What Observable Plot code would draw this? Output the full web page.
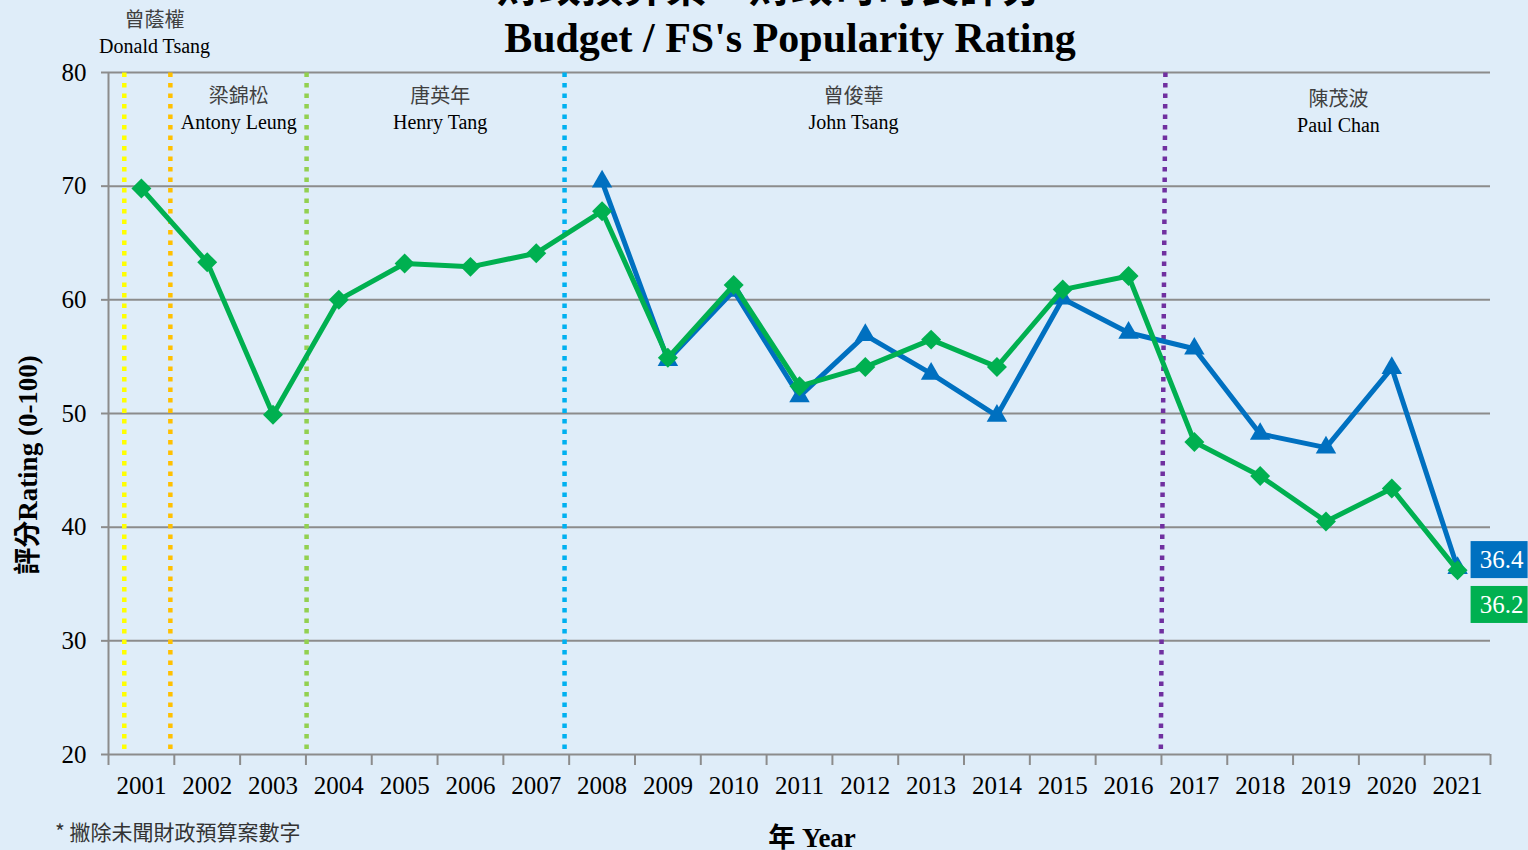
<!DOCTYPE html>
<html><head><meta charset="utf-8">
<script src="https://cdn.jsdelivr.net/npm/d3@7"></script>
<script src="https://cdn.jsdelivr.net/npm/@observablehq/plot@0.6"></script>
<style>
body{margin:0;background:#dfedf9;}
#wrap{position:relative;width:1528px;height:850px;overflow:hidden;font-family:"Liberation Serif","Noto Sans CJK TC",serif;background:#dfedf9;}
.abs{position:absolute;white-space:nowrap;line-height:1;}
#wrap svg{position:absolute;left:0;top:0;}
</style></head><body><div id="wrap">
<div class="abs" style="left:0;width:1540px;text-align:center;top:-37px;font-size:42px;font-weight:bold;font-family:'Noto Sans CJK TC',sans-serif;">財政預算案、財政司司長評分</div>
<div class="abs" style="left:0;width:1580px;text-align:center;top:17px;font-size:42px;font-weight:bold;">Budget / FS's Popularity Rating</div>
<div class="abs" style="left:28px;top:465px;transform:translate(-50%,-50%) rotate(-90deg);font-size:27px;font-weight:bold;">評分Rating (0-100)</div>
<div class="abs" style="left:812px;top:838px;transform:translate(-50%,-50%);font-size:27px;font-weight:bold;">年 Year</div>
<div class="abs" style="left:55px;top:821px;font-size:21px;color:#333;font-family:'Noto Sans CJK TC','Liberation Serif',sans-serif;">* 撇除未聞財政預算案數字</div>
</div>
<script>
// ---- data ----
const years = [2001,2002,2003,2004,2005,2006,2007,2008,2009,2010,2011,2012,2013,2014,2015,2016,2017,2018,2019,2020,2021];
const budgetRating = [69.8,63.3,49.9,60.0,63.2,62.9,64.1,67.8,54.9,61.3,52.4,54.1,56.5,54.1,60.9,62.1,47.5,44.5,40.5,43.4,36.2];
const fsYears = [2008,2009,2010,2011,2012,2013,2014,2015,2016,2017,2018,2019,2020,2021];
const fsRating = [70.4,54.7,60.8,51.5,56.9,53.5,49.8,60.1,57.1,55.7,48.2,47.0,54.0,36.4];
const yTicks = [20,30,40,50,60,70,80];
// term boundaries (year position at top / bottom of plot)
const termTop = [2000.74,2001.44,2003.51,2007.43,2016.56];
const termBottom = [2000.74,2001.44,2003.51,2007.43,2016.49];
const termColors = ["#ffff00","#ffc000","#92d050","#00b0f0","#7030a0"];
// office holders
const holderZh = ["曾蔭權","梁錦松","唐英年","曾俊華","陳茂波"];
const holderEn = ["Donald Tsang","Antony Leung","Henry Tang","John Tsang","Paul Chan"];
const holderX = [2001.2,2002.48,2005.54,2011.82,2019.19];
const holderYzh = [84.6,77.9,77.9,77.9,77.6];
const holderYen = [82.3,75.6,75.6,75.6,75.3];

const green = "#00b050", blue = "#0070c0", grid = "#8c8c8c";
const budget = years.map((y,i)=>({year:y, v:budgetRating[i]}));
const fs = fsYears.map((y,i)=>({year:y, v:fsRating[i]}));
const terms = termTop.map((t,i)=>({top:t, bottom:termBottom[i], color:termColors[i]}));
const holders = holderZh.map((z,i)=>({zh:z, en:holderEn[i], x:holderX[i], yz:holderYzh[i], ye:holderYen[i]}));
const bounds = d3.range(2000.5, 2022, 1);
const lastFs = [fs[fs.length-1]];
const lastBudget = [budget[budget.length-1]];

function valueLabel(data, fill, dy) {
  return [
    Plot.rect(data, {x1:"year", x2:"year", y1:"v", y2:"v", fill, dy, insetLeft:13.5, insetRight:-70.5, insetTop:-18.5, insetBottom:-18.5}),
    Plot.text(data, {x:"year", y:"v", text:d=>d.v.toFixed(1), fill:"#fff", fontSize:25, dx:44, dy})
  ];
}

const chart = Plot.plot({
  width:1528, height:850,
  marginLeft:108, marginRight:38, marginTop:72, marginBottom:96,
  style:{background:"transparent", fontFamily:"'Liberation Serif','Noto Sans CJK TC',serif", overflow:"visible"},
  x:{domain:[2000.5,2021.5], axis:null},
  y:{domain:[20,80], axis:null},
  marks:[
    Plot.ruleY(yTicks, {stroke:grid, strokeWidth:2}),
    Plot.ruleX([2000.5], {stroke:grid, strokeWidth:2}),
    Plot.link(terms, {x1:"top", x2:"bottom", y1:()=>80, y2:()=>20, stroke:"color", strokeWidth:4.5, strokeDasharray:"4.5,6"}),
    Plot.line(fs, {x:"year", y:"v", stroke:blue, strokeWidth:5}),
    Plot.dot(fs, {x:"year", y:"v", symbol:"triangle", fill:blue, r:7.6, stroke:null}),
    Plot.line(budget, {x:"year", y:"v", stroke:green, strokeWidth:5}),
    Plot.dot(budget, {x:"year", y:"v", symbol:"diamond2", fill:green, stroke:null, r:9}),
    ...valueLabel(lastFs, blue, -8),
    ...valueLabel(lastBudget, green, 34.6),
    Plot.text(holders, {x:"x", y:"yz", text:"zh", fontSize:20, fill:"#404040", fontFamily:"'Noto Sans CJK TC',sans-serif"}),
    Plot.text(holders, {x:"x", y:"ye", text:"en", fontSize:20, fill:"#000"}),
    Plot.axisY({ticks:yTicks, tickSize:7, tickPadding:15, fontSize:25, stroke:grid, fill:"#000", strokeWidth:2, label:null, tickFormat:d=>String(d)}),
    Plot.axisX({ticks:bounds, tickSize:11, tickFormat:()=>"", stroke:grid, strokeWidth:2, label:null}),
    Plot.axisX({ticks:years, tickSize:0, tickPadding:22, fontSize:25, fill:"#000", label:null, tickFormat:d=>String(d)})
  ]
});
document.getElementById("wrap").prepend(chart);
</script>
</body></html>
